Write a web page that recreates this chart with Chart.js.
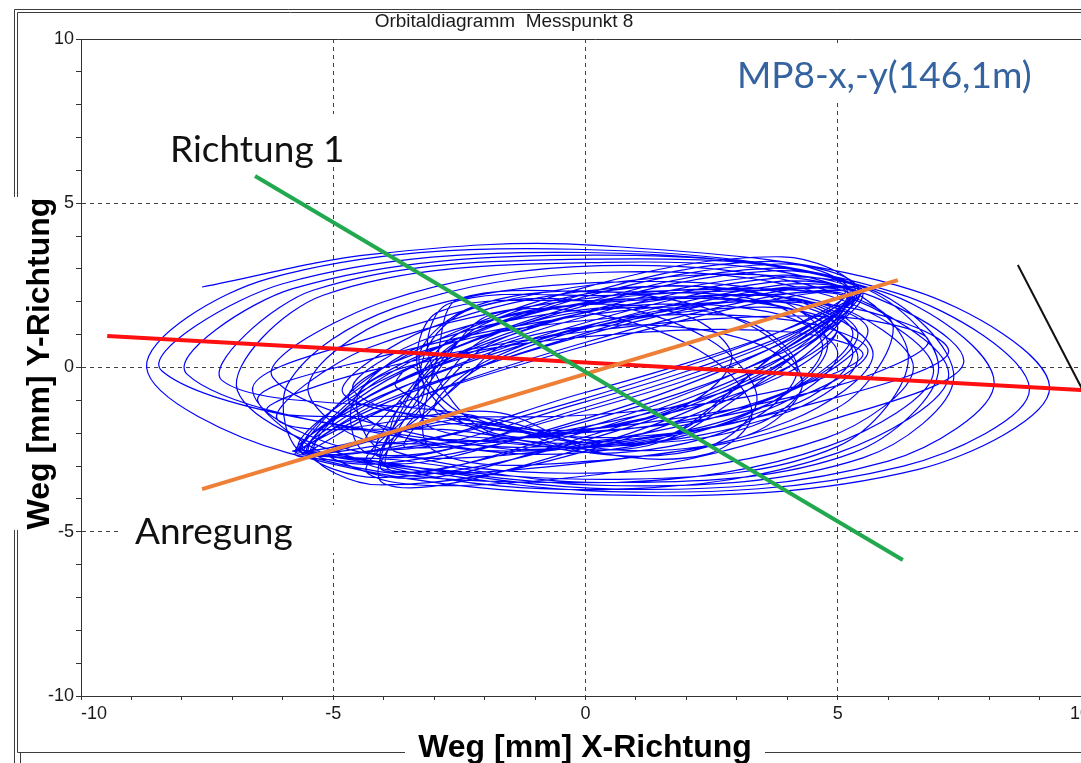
<!DOCTYPE html>
<html>
<head>
<meta charset="utf-8">
<title>Orbitaldiagramm Messpunkt 8</title>
<script src="https://cdn.jsdelivr.net/npm/chart.js@4.4.0/dist/chart.umd.min.js"></script>
<style>
  html, body { margin: 0; padding: 0; background: #fff; overflow: hidden; }
  #wrap { position: relative; width: 1081px; height: 763px; overflow: hidden; }
  canvas { display: block; }
</style>
</head>
<body>
<div id="wrap"><canvas id="orbit" width="1110" height="763"></canvas></div>
<script>
// texts
const chartTitle = 'Orbitaldiagramm  Messpunkt 8';
const xTitle = 'Weg [mm] X-Richtung';
const yTitle = 'Weg [mm] Y-Richtung';
const noteMp = 'MP8-x,-y(146,1m)';
const noteDir = 'Richtung 1';
const noteExc = 'Anregung';

// axis range / labelled ticks (mm)
const axisMin = -10, axisMax = 10;
const labelledTicks = [-10, -5, 0, 5, 10];

// orbit trace (x, y in mm)
const outerLoops = [
  [[-7.6,2.45],[-4.2,3.45],[0.2,3.72],[6.5,2.35],[9.2,-0.6],[6.6,-3.1],[0.4,-3.88],[-5.9,-2.6]],
  [[-8.7,0.0],[-6.3,2.7],[-0.2,3.6],[6.2,2.25],[8.8,-0.65],[6.3,-3.0],[0.5,-3.78],[-5.8,-2.55]],
  [[-8.4,-0.1],[-6.0,2.55],[0.0,3.5],[5.9,2.3],[8.1,-0.45],[6.0,-2.85],[0.6,-3.7],[-5.7,-2.5]],
  [[-7.9,-0.2],[-5.8,2.4],[0.2,3.42],[5.6,2.4],[7.3,-0.3],[5.5,-2.75],[0.7,-3.6],[-5.6,-2.6]],
  [[-7.2,-0.4],[-5.4,2.35],[0.3,3.3],[5.3,2.55],[7.0,0.0],[5.3,-2.6],[0.8,-3.5],[-5.5,-2.7]],
  [[-6.9,-0.7],[-5.2,2.2],[0.4,3.2],[5.0,2.5],[6.4,0.3],[5.0,-2.4],[0.9,-3.4],[-5.5,-2.75]],
];
const midLoops = [
  [[-5.5,-0.6],[-3.76,1.55],[0.5,2.6],[4.76,1.97],[6.5,0.0],[4.76,-2.15],[0.5,-3.2],[-3.76,-2.57]],
  [[-5.9,-0.5],[-3.8,1.8],[0.4,2.9],[4.8,2.2],[6.9,-0.1],[4.8,-2.4],[0.6,-3.5],[-3.8,-2.8]],
  [[-6.2,-0.3],[-4.0,2.0],[0.3,3.1],[4.9,2.3],[7.2,-0.2],[5.0,-2.6],[0.7,-3.7],[-4.0,-3.0]],
];
const tiltedLoops = [
  [[-5.7,-2.5],[-4.05,-1.29],[-0.13,0.6],[3.8,2.09],[5.4,2.3],[3.85,1.09],[-0.1,-0.8],[-4.07,-2.29]],
  [[-5.6,-2.45],[-4.1,-1.08],[-0.2,0.9],[3.75,2.3],[5.5,2.35],[3.8,0.88],[-0.13,-1.1],[-4.0,-2.5]],
  [[-5.75,-2.55],[-4.07,-0.87],[-0.1,1.2],[3.85,2.51],[5.3,2.25],[3.81,0.67],[-0.2,-1.4],[-4.1,-2.71]],
  [[-5.65,-2.5],[-4.0,-0.65],[-0.13,1.5],[3.81,2.73],[5.45,2.3],[3.9,0.45],[-0.13,-1.7],[-4.07,-2.93]],
  [[-5.7,-2.45],[-4.1,-0.44],[-0.2,1.8],[3.7,2.94],[5.5,2.25],[3.81,0.24],[-0.1,-2.0],[-4.0,-3.14]],
  [[-5.6,-2.5],[-4.07,-0.23],[-0.13,2.1],[3.81,3.15],[5.4,2.35],[3.75,0.03],[-0.2,-2.3],[-4.07,-3.35]],
  [[-5.75,-2.6],[-4.0,-0.01],[-0.1,2.4],[3.9,3.37],[5.35,2.3],[3.81,-0.19],[-0.13,-2.6],[-4.1,-3.57]],
];
const steepLoops = [
  [[-5.5,-2.56],[-3.95,-1.26],[-0.15,0.7],[3.65,2.16],[5.2,2.26],[3.65,0.96],[-0.15,-1.0],[-3.95,-2.46]],
  [[-5.45,-2.5],[-3.9,-1.04],[-0.1,1.0],[3.6,2.38],[5.25,2.2],[3.7,0.74],[-0.2,-1.3],[-3.95,-2.68]],
  [[-5.55,-2.6],[-3.95,-0.83],[-0.15,1.3],[3.65,2.59],[5.15,2.3],[3.6,0.53],[-0.1,-1.6],[-4.0,-2.89]],
  [[-5.5,-2.52],[-4.0,-0.62],[-0.2,1.6],[3.7,2.8],[5.3,2.25],[3.65,0.32],[-0.15,-1.9],[-3.9,-3.1]],
  [[-5.4,-2.55],[-3.95,-0.4],[-0.15,1.9],[3.6,3.02],[5.2,2.3],[3.7,0.1],[-0.2,-2.2],[-3.95,-3.32]],
  [[-5.5,-2.6],[-3.9,-0.19],[-0.1,2.2],[3.65,3.23],[5.25,2.25],[3.65,-0.11],[-0.15,-2.5],[-4.0,-3.53]],
];
const wideLoops = [
  [[-6.3,-1.3],[-4.3,-0.11],[0.3,1.15],[4.9,1.55],[6.8,0.8],[4.9,-0.59],[0.3,-1.85],[-4.3,-2.25]],
  [[-6.5,-1.0],[-4.3,0.24],[0.3,1.65],[4.9,1.9],[7.2,0.5],[4.9,-0.94],[0.3,-2.35],[-4.3,-2.6]],
  [[-6.1,-1.6],[-4.3,0.6],[0.3,2.15],[4.9,2.26],[6.1,1.2],[4.9,-1.3],[0.3,-2.85],[-4.3,-2.96]],
  [[-6.6,-0.7],[-4.3,0.88],[0.3,2.55],[4.9,2.54],[7.5,0.2],[4.9,-1.58],[0.3,-3.25],[-4.3,-3.24]],
];
const flatLoops = [
  [[-4.5,-0.8],[-3.05,0.22],[0.5,1.0],[4.05,1.08],[5.5,0.4],[4.05,-0.62],[0.5,-1.4],[-3.05,-1.48]],
  [[-4.7,-0.9],[-3.05,0.58],[0.5,1.5],[4.05,1.44],[5.6,0.5],[4.05,-0.98],[0.5,-1.9],[-3.05,-1.84]],
  [[-4.6,-0.7],[-3.05,0.93],[0.5,2.0],[4.05,1.79],[5.4,0.3],[4.05,-1.33],[0.5,-2.4],[-3.05,-2.19]],
  [[-4.8,-0.8],[-3.05,1.22],[0.5,2.4],[4.05,2.08],[5.7,0.4],[4.05,-1.62],[0.5,-2.8],[-3.05,-2.48]],
];
const coreLoops = [
  [[-3.7,-1.23],[-2.4,0.52],[0.8,1.9],[4.0,2.12],[5.3,1.03],[4.0,-0.72],[0.8,-2.1],[-2.4,-2.32]],
  [[-3.7,-1.04],[-2.48,0.83],[0.5,2.1],[3.48,2.03],[4.7,0.64],[3.48,-1.23],[0.5,-2.5],[-2.48,-2.43]],
  [[-3.0,-1.2],[-1.84,0.29],[1.0,1.6],[3.84,1.99],[5.0,1.2],[3.84,-0.29],[1.0,-1.6],[-1.84,-1.99]],
  [[-4.6,-1.02],[-3.21,0.68],[0.2,1.8],[3.61,1.7],[5.0,0.42],[3.61,-1.28],[0.2,-2.4],[-3.21,-2.3]],
  [[-3.0,-0.76],[-1.96,0.9],[0.6,1.8],[3.16,1.42],[4.2,-0.04],[3.16,-1.7],[0.6,-2.6],[-1.96,-2.22]],
  [[-3.0,-0.82],[-1.78,0.8],[1.2,2.0],[4.18,2.1],[5.4,1.02],[4.18,-0.6],[1.2,-1.8],[-1.78,-1.9]],
  [[-5.0,-1.8],[-3.55,-0.3],[0.0,1.2],[3.55,1.84],[5.0,1.2],[3.55,-0.3],[0.0,-1.8],[-3.55,-2.44]],
  [[-2.5,-0.5],[-1.51,0.78],[0.9,1.3],[3.31,0.78],[4.3,-0.5],[3.31,-1.78],[0.9,-2.3],[-1.51,-1.78]],
];
const innerLoops = [
  [[-3.3,-0.43],[-2.05,1.18],[1.0,2.1],[4.05,1.8],[5.3,0.43],[4.05,-1.18],[1.0,-2.1],[-2.05,-1.8]],
  [[-3.2,-0.5],[-2.04,1.3],[0.8,2.4],[3.64,2.16],[4.8,0.7],[3.64,-1.1],[0.8,-2.2],[-2.04,-1.96]],
  [[-3.2,-1.52],[-1.92,0.14],[1.2,1.6],[4.32,2.02],[5.6,1.12],[4.32,-0.54],[1.2,-2.0],[-1.92,-2.42]],
  [[-3.3,0.28],[-2.2,1.87],[0.5,2.3],[3.2,1.33],[4.3,-0.48],[3.2,-2.07],[0.5,-2.5],[-2.2,-1.53]],
];
const vertLoops = [
  [[-3.1,0.3],[-2.7,1.95],[0.5,2.2],[3.6,2.35],[5.35,2.25],[3.6,0.2],[1.2,-2.3],[-2.5,-1.7]],
  [[-3.3,-0.2],[-2.9,1.7],[0.3,2.05],[3.4,2.2],[5.2,2.1],[3.3,-0.6],[1.0,-2.45],[-2.7,-1.9]],
  [[-2.9,0.6],[-2.5,2.1],[0.8,2.3],[3.9,2.4],[5.45,2.3],[3.9,0.6],[1.4,-2.2],[-2.3,-1.5]],
];
const smallLoops = [
  [[-3.2,0.36],[-2.24,1.8],[0.1,2.0],[2.44,0.86],[3.4,-0.96],[2.44,-2.4],[0.1,-2.6],[-2.24,-1.46]],
  [[-2.7,0.4],[-1.83,1.63],[0.3,1.6],[2.43,0.35],[3.3,-1.4],[2.43,-2.63],[0.3,-2.6],[-1.83,-1.35]],
  [[-3.3,-0.31],[-2.4,1.13],[-0.2,1.9],[2.0,1.57],[2.9,0.31],[2.0,-1.13],[-0.2,-1.9],[-2.4,-1.57]],
];
const tinyLoops = [
  [[-3.75,-0.6],[-3.6,-0.1],[-3.4,0.0],[-3.25,-0.3],[-3.2,-0.7],[-3.3,-1.1],[-3.5,-1.2],[-3.7,-1.0]],
];
const loopOrder = [
  ['outer',0],['outer',1],['tilted',0],['mid',0],['core',0],['outer',2],['tilted',1],['flat',0],
  ['wide',0],['core',1],['outer',3],['steep',0],['tilted',2],['inner',0],['core',2],['vert',0],
  ['tilted',3],['steep',1],['wide',1],['core',3],['flat',1],['small',0],['outer',4],['mid',1],
  ['tilted',4],['core',4],['steep',2],['inner',1],['vert',1],['wide',2],['core',5],['flat',2],
  ['tilted',5],['steep',3],['small',1],['core',6],['inner',2],['mid',2],['outer',5],['tilted',6],
  ['steep',4],['wide',3],['core',7],['flat',3],['vert',2],['inner',3],['steep',5],['small',2],
  ['tiny',0],
];

// drawn-in reference lines (mm)
const richtungLine = [[-6.55,5.83],[6.29,-5.86]];
const mainAxisLine = [[-9.48,0.96],[10.0,-0.70]];
const anregungLine = [[-7.6,-3.70],[6.19,2.66]];
const blackLine = [[8.57,3.12],[10.0,-1.12]];

const families = {
  outer: outerLoops, mid: midLoops, tilted: tiltedLoops, steep: steepLoops, wide: wideLoops,
  flat: flatLoops, core: coreLoops, inner: innerLoops, vert: vertLoops, small: smallLoops,
  tiny: tinyLoops,
};
const orbitTrace = loopOrder.flatMap(([f, i]) => families[f][i]);

const FONT = '"Liberation Sans", Arial, sans-serif';
const NOTE_FONT = 'Lato, "Open Sans", sans-serif';

function gridColor(c) {
  const v = c.tick ? c.tick.value : null;
  return (v !== null && v % 5 === 0 && Math.abs(v) !== 10) ? '#404040' : 'rgba(0,0,0,0)';
}

function seg(ctx, x1, y1, x2, y2) {
  ctx.beginPath(); ctx.moveTo(x1, y1); ctx.lineTo(x2, y2); ctx.stroke();
}

const frame = {
  id: 'frame',
  afterDraw(chart) {
    const { ctx, chartArea: a } = chart;
    const W = chart.width;
    ctx.save();
    // plot top edge
    ctx.strokeStyle = '#333'; ctx.lineWidth = 1;
    seg(ctx, a.left, 39.5, W, 39.5);

    // surrounding group frame
    ctx.strokeStyle = '#3c3c3c';
    seg(ctx, 14.5, 9.5, W, 9.5);
    seg(ctx, 17.5, 12.5, W, 12.5);
    seg(ctx, 14.5, 9.5, 14.5, 197); seg(ctx, 14.5, 530, 14.5, 763);
    seg(ctx, 17.5, 12.5, 17.5, 197); seg(ctx, 17.5, 530, 17.5, 752.5);
    seg(ctx, 17.5, 752.5, 405, 752.5); seg(ctx, 765, 752.5, W, 752.5);
    seg(ctx, 20.5, 752.5, 20.5, 763);

    // titles
    ctx.fillStyle = '#1a1a1a';
    ctx.textBaseline = 'alphabetic';
    ctx.textAlign = 'center';
    ctx.font = '19px ' + FONT;
    ctx.fillText(chartTitle, 504, 27);
    ctx.fillStyle = '#000';
    ctx.font = 'bold 32px ' + FONT;
    ctx.fillText(xTitle, 585, 757);
    ctx.save();
    ctx.translate(49, 363.5);
    ctx.rotate(-Math.PI / 2);
    ctx.fillText(yTitle, 0, 0);
    ctx.restore();

    // pasted-on text boxes
    const notes = [
      { text: noteMp,  x: 737, y: 88,  color: '#35639f', box: [722, 46, 330, 54] },
      { text: noteDir, x: 170, y: 162, color: '#111',    box: [156, 114, 205, 53] },
      { text: noteExc, x: 135, y: 544, color: '#111',    box: [118, 505, 275, 48] },
    ];
    ctx.textAlign = 'left';
    ctx.font = '37px ' + NOTE_FONT;
    notes.forEach(n => {
      ctx.fillStyle = '#fff';
      ctx.fillRect(...n.box);
      ctx.fillStyle = n.color;
      ctx.fillText(n.text, n.x, n.y);
    });
    ctx.restore();
  }
};

function refLine(data, color, width, order) {
  return { data, showLine: true, borderColor: color, borderWidth: width, pointRadius: 0, tension: 0, order };
}

new Chart(document.getElementById('orbit'), {
  type: 'scatter',
  data: {
    datasets: [
      refLine(blackLine, '#111', 2, 0),
      refLine(richtungLine, '#22a94f', 4, 1),
      refLine(anregungLine, '#ee7f36', 4, 2),
      refLine(mainAxisLine, '#ff1010', 4, 3),
      {
        data: orbitTrace, showLine: true, borderColor: '#0000ff', borderWidth: 1.2,
        pointRadius: 0, tension: 0.35, order: 9,
      },
    ],
  },
  options: {
    responsive: false, animation: false, devicePixelRatio: 1,
    layout: { padding: { top: 39, right: 20, left: 0, bottom: 0 } },
    plugins: { legend: { display: false }, tooltip: { enabled: false }, title: { display: false } },
    scales: {
      x: {
        type: 'linear', min: axisMin, max: axisMax,
        afterFit: s => { s.height = 67; },
        ticks: {
          stepSize: 1, autoSkip: false, maxRotation: 0, align: 'inner', padding: 3,
          color: '#1a1a1a', font: { family: FONT, size: 18 },
          callback: v => labelledTicks.includes(v) ? String(v) : '',
        },
        grid: { color: gridColor, lineWidth: 1, tickLength: 4, tickColor: '#333' },
        border: { display: true, color: '#333', width: 1, dash: [4, 4] },
      },
      y: {
        type: 'linear', min: axisMin, max: axisMax,
        afterFit: s => { s.width = 81; },
        ticks: {
          stepSize: 1, autoSkip: false, padding: 2,
          color: '#1a1a1a', font: { family: FONT, size: 18 },
          callback: v => labelledTicks.includes(v) ? String(v) : '',
        },
        grid: { color: gridColor, lineWidth: 1, tickLength: 5, tickColor: '#333' },
        border: { display: true, color: '#333', width: 1, dash: [4, 4] },
      },
    },
  },
  plugins: [frame],
});
</script>
</body>
</html>
